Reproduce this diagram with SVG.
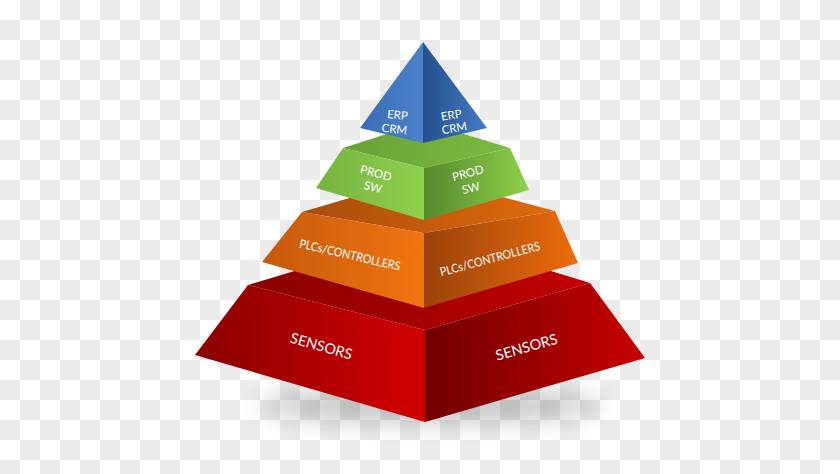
<svg xmlns="http://www.w3.org/2000/svg" width="840" height="474" viewBox="0 0 840 474">
<defs>
<pattern id="chk" width="40" height="40" patternUnits="userSpaceOnUse">
<rect width="40" height="40" fill="#ffffff"/>
<rect x="20" y="0" width="20" height="20" fill="#ebebeb"/>
<rect x="0" y="20" width="20" height="20" fill="#ebebeb"/>
</pattern>
<filter id="blur" x="-50%" y="-50%" width="200%" height="200%"><feGaussianBlur stdDeviation="12"/></filter>
<linearGradient id="bL" x1="0" x2="1" y1="0" y2="0"><stop offset="0" stop-color="#3a6db5"/><stop offset="1" stop-color="#4a82cc"/></linearGradient>
<linearGradient id="bR" x1="0" x2="1" y1="0" y2="0"><stop offset="0" stop-color="#24508e"/><stop offset="1" stop-color="#427bc4"/></linearGradient>
<linearGradient id="gL" x1="0" x2="1" y1="0" y2="0"><stop offset="0" stop-color="#77b241"/><stop offset="1" stop-color="#8fd04d"/></linearGradient>
<linearGradient id="gR" x1="0" x2="1" y1="0" y2="0"><stop offset="0" stop-color="#55892c"/><stop offset="1" stop-color="#8ed24b"/></linearGradient>
<linearGradient id="gT" x1="0" x2="1" y1="0" y2="0"><stop offset="0" stop-color="#68a137"/><stop offset="1" stop-color="#7bbb40"/></linearGradient>
<linearGradient id="oL" x1="0" x2="1" y1="0" y2="0"><stop offset="0" stop-color="#c45a0c"/><stop offset="1" stop-color="#f27410"/></linearGradient>
<linearGradient id="oR" x1="0" x2="1" y1="0" y2="0"><stop offset="0" stop-color="#9a420a"/><stop offset="1" stop-color="#ee6c0c"/></linearGradient>
<linearGradient id="oT" x1="0" x2="1" y1="0" y2="0"><stop offset="0" stop-color="#a84c0c"/><stop offset="1" stop-color="#e06a0c"/></linearGradient>
<linearGradient id="rL" x1="0" x2="1" y1="0" y2="0"><stop offset="0" stop-color="#8a0000"/><stop offset="1" stop-color="#d20000"/></linearGradient>
<linearGradient id="rR" x1="0" x2="1" y1="0" y2="0"><stop offset="0" stop-color="#700000"/><stop offset="1" stop-color="#c80000"/></linearGradient>
<linearGradient id="rT" x1="0" x2="1" y1="0" y2="0"><stop offset="0" stop-color="#880000"/><stop offset="1" stop-color="#c20000"/></linearGradient>
</defs>
<style>
.t{font-family:Lato,"Open Sans","Liberation Sans",sans-serif;fill:#ffffff;text-anchor:middle}
.s11{font-size:11.5px}
.s12{font-size:12px}
.s14{font-size:14.5px}
</style>
<rect width="840" height="474" fill="url(#chk)"/>
<ellipse cx="430" cy="405" rx="170" ry="18" fill="#000" opacity="0.22" filter="url(#blur)"/>

<g id="sensors">
<polygon points="248,285 424,232 590,283 425,330" fill="url(#rT)"/>
<polygon points="248,285 425,330 425,422 195,355" fill="url(#rL)"/>
<polygon points="425,330 590,283 645,358 425,422" fill="url(#rR)"/>
<text class="t s14" transform="translate(320,351) rotate(16)">SENSORS</text>
<text class="t s14" transform="translate(528,352) rotate(-16)">SENSORS</text>
</g>

<g id="plcs">
<polygon points="302,212 424,176 555,211 424,233" fill="url(#oT)"/>
<polygon points="302,212 424,233 424,308 262,262" fill="url(#oL)"/>
<polygon points="424,233 555,211 578,263 424,308" fill="url(#oR)"/>
<text class="t s12" transform="translate(349,259) rotate(13)" textLength="103" lengthAdjust="spacingAndGlyphs">PLCs/CONTROLLERS</text>
<text class="t s12" transform="translate(491,263) rotate(-15)" textLength="103" lengthAdjust="spacingAndGlyphs">PLCs/CONTROLLERS</text>
</g>

<g id="prod">
<polygon points="343,148 424,122 510,148 424,168" fill="url(#gT)"/>
<polygon points="343,148 424,168 424,220 316,188" fill="url(#gL)"/>
<polygon points="424,168 510,148 529,190 424,220" fill="url(#gR)"/>
<text class="t s11" transform="translate(375,177) rotate(15)">PROD</text>
<text class="t s11" transform="translate(372,191) rotate(15)">SW</text>
<text class="t s11" transform="translate(469,177) rotate(-15)">PROD</text>
<text class="t s11" transform="translate(472,192) rotate(-15)">SW</text>
</g>

<g id="erp">
<polygon points="423,42 360,128 423,143" fill="url(#bL)"/>
<polygon points="423,42 423,143 487,128" fill="url(#bR)"/>
<text class="t s11" transform="translate(397,119) rotate(6)">ERP</text>
<text class="t s11" transform="translate(394,133) rotate(6)">CRM</text>
<text class="t s11" transform="translate(452,119) rotate(-10)">ERP</text>
<text class="t s11" transform="translate(455,132) rotate(-10)">CRM</text>
</g>

<g id="connectors"></g>
</svg>
